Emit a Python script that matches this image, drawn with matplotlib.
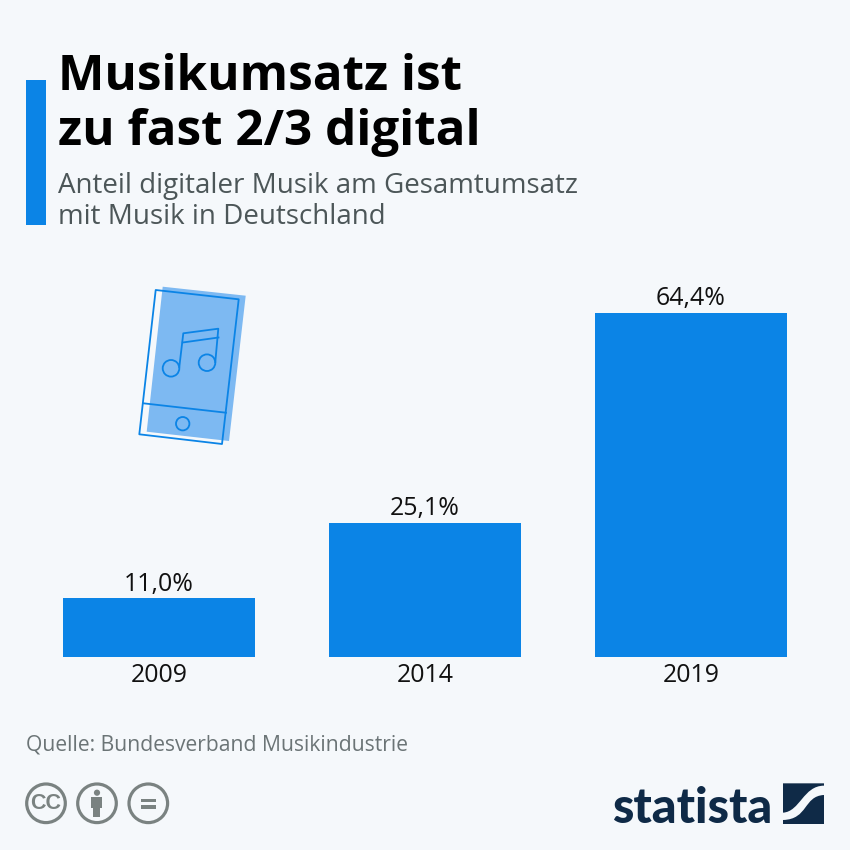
import matplotlib
matplotlib.use("Agg")
import matplotlib.pyplot as plt
from matplotlib.patches import Rectangle, Polygon, Circle, PathPatch
from matplotlib.path import Path

years = ["2009", "2014", "2019"]
shares = [11.0, 25.1, 64.4]
labels = ["11,0%", "25,1%", "64,4%"]
title_lines = ["Musikumsatz ist", "zu fast 2/3 digital"]
subtitle_lines = ["Anteil digitaler Musik am Gesamtumsatz", "mit Musik in Deutschland"]
source = "Quelle: Bundesverband Musikindustrie"

BG = "#f5f8fb"
BLUE = "#0b84e6"
LIGHT = "#7db9f2"
GREY = "#7a8281"
NAVY = "#0f2a47"
FONT = "Open Sans"
plt.rcParams["font.family"] = FONT

W = 850
fig = plt.figure(figsize=(8.5, 8.5), dpi=100, facecolor=BG)

# bar chart, y scale 5.34 px per percentage point
ax = fig.add_axes([26 / W, (W - 657) / W, 798 / W, 367 / W])
ax.set_facecolor("none")
ax.bar(range(3), shares, width=0.72, color=BLUE)
ax.set_xlim(-0.5, 2.5)
ax.set_ylim(0, 367 / 5.34)
ax.set_xticks(range(3), years)
ax.set_yticks([])
ax.tick_params(axis="x", length=0, pad=4, labelsize=17.9, labelcolor="#111111")
for s in ax.spines.values():
    s.set_visible(False)
for i, v in enumerate(shares):
    ax.annotate(labels[i], (i, v), xytext=(0, 1.2), textcoords="offset points",
                ha="center", va="bottom", fontsize=17.9, color="#111111")

# overlay in pixel coordinates for the infographic furniture
ov = fig.add_axes([0, 0, 1, 1], zorder=5)
ov.set_xlim(0, W)
ov.set_ylim(W, 0)
ov.axis("off")
ov.patch.set_alpha(0)

ov.add_patch(Rectangle((26, 80), 20, 145, color=BLUE, lw=0))
ov.text(58, 90, title_lines[0], fontsize=35.6, fontweight="bold", color="#000000", va="baseline")
ov.text(58, 145, title_lines[1], fontsize=35.6, fontweight="bold", color="#000000", va="baseline")
ov.text(58, 193, subtitle_lines[0], fontsize=20, color="#4c5658", va="baseline")
ov.text(58, 224, subtitle_lines[1], fontsize=20, color="#4c5658", va="baseline")
ov.text(26, 751, source, fontsize=15.2, color="#6b7476", va="baseline")

# phone icon
ov.add_patch(Polygon([(162.7, 286.7), (245.7, 295.7), (229, 441), (146.7, 431.7)], color=LIGHT, lw=0))
ilw = 1.3
ov.add_patch(Polygon([(155.7, 290), (238.7, 299.3), (222, 444), (139.3, 434.3)], fill=False, ec=BLUE, lw=ilw, joinstyle="round"))
ov.plot([143.3, 226], [403.3, 412.7], color=BLUE, lw=ilw)
ov.add_patch(Circle((182.7, 423.7), 6.7, fill=False, ec=BLUE, lw=ilw))
ov.add_patch(Circle((171, 368.3), 8.3, fill=False, ec=BLUE, lw=ilw))
ov.add_patch(Circle((207, 362.7), 8.3, fill=False, ec=BLUE, lw=ilw))
ov.plot([179.3, 183.3, 218.3, 215.3], [367, 333.3, 328.7, 362], color=BLUE, lw=ilw, solid_joinstyle="round")
ov.plot([182.7, 218.5], [342.5, 337.5], color=BLUE, lw=ilw)

# licence icons
for cx in (46, 97, 148.3):
    ov.add_patch(Circle((cx, 803.3), 19.3, fill=False, ec=GREY, lw=2.3))
ov.text(46, 803.6, "CC", fontsize=15.5, fontweight="bold", color=GREY, ha="center", va="center", family="Liberation Sans")
ov.add_patch(Circle((97, 792.7), 3.1, color=GREY, lw=0))
ov.add_patch(Polygon([(91.5, 797), (102.5, 797), (102.5, 808), (100.5, 808), (100.5, 817), (93.5, 817),
                      (93.5, 808), (91.5, 808)], color=GREY, lw=0))
ov.add_patch(Rectangle((140.7, 798.7), 15.6, 3.4, color=GREY, lw=0))
ov.add_patch(Rectangle((140.7, 805.3), 15.6, 3.7, color=GREY, lw=0))

# statista logo
ov.text(612, 823, "statista", fontsize=35, fontweight="black", color=NAVY, va="baseline",
        family="Lato")
zx = lambda x: 600 + x / 3
zy = lambda y: 770 + y / 3
def pts(seq):
    return [(zx(a), zy(b)) for a, b in seq]
upper = pts([(549, 40), (672, 40), (672, 47), (610, 47), (600, 125), (549, 128), (549, 40), (549, 40)])
ucodes = [Path.MOVETO, Path.LINETO, Path.LINETO, Path.CURVE4, Path.CURVE4, Path.CURVE4, Path.LINETO, Path.CLOSEPOLY]
ov.add_patch(PathPatch(Path(upper, ucodes), fc=NAVY, lw=0))
lower = pts([(549, 150), (625, 148), (610, 78), (672, 75), (672, 162), (549, 162), (549, 150)])
lcodes = [Path.MOVETO, Path.CURVE4, Path.CURVE4, Path.CURVE4, Path.LINETO, Path.LINETO, Path.CLOSEPOLY]
ov.add_patch(PathPatch(Path(lower, lcodes), fc=NAVY, lw=0))

fig.savefig("out.png", dpi=100, facecolor=BG)
